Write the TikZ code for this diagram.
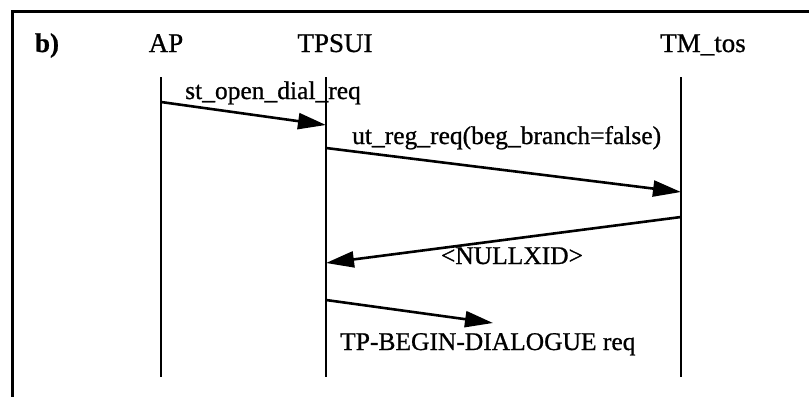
\documentclass[tikz,border=0pt]{standalone}
\usepackage{fontspec}
\setmainfont{Liberation Serif}
\newfontfamily\scanfont{Liberation Serif}[FakeBold=0.8]
\usetikzlibrary{arrows.meta}
\begin{document}
\begin{tikzpicture}[x=1pt,y=-1pt,
  head/.style={font=\scanfont\fontsize{27}{30}\selectfont, inner sep=0pt, anchor=base},
  lbl/.style={font=\scanfont\fontsize{25.5}{28}\selectfont, inner sep=0pt},
  life/.style={line width=2.3pt},
  msg/.style={line width=2.6pt, -{Triangle[length=28pt,width=16pt]}},
  frame/.style={line width=3pt}]
\useasboundingbox (0,0) rectangle (809,397);
\draw[frame] (809,11) -- (12,11) -- (12,397);
% headers
\node[head] (b) at (47,52) {\bfseries b)};
\node[head] (ap) at (166,52) {AP};
\node[head] (tpsui) at (335,52) {TPSUI};
\node[head] (tm) at (703,52) {TM\_tos};
% lifelines
\coordinate (apT) at (161,77); \coordinate (apB) at (161,377);
\coordinate (tpT) at (326,77); \coordinate (tpB) at (326,377);
\coordinate (tmT) at (681,77); \coordinate (tmB) at (681,377);
\draw[life] (apT) -- (apB);
\draw[life] (tpT) -- (tpB);
\draw[life] (tmT) -- (tmB);
% message endpoints
\coordinate (m1s) at (161,102); \coordinate (m1e) at (326,125);
\coordinate (m2s) at (326,148); \coordinate (m2e) at (681,192);
\coordinate (m3s) at (681,217); \coordinate (m3e) at (326,263);
\coordinate (m4s) at (326,300); \coordinate (m4e) at (493,323);
\draw[msg] (m1s) -- (m1e);
\draw[msg] (m2s) -- (m2e);
\draw[msg] (m3s) -- (m3e);
\draw[msg] (m4s) -- (m4e);
% labels
\node[lbl, anchor=base west] (l1) at (185,99) {st\_open\_dial\_req};
\node[lbl, anchor=base west] (l2) at (352,144) {ut\_reg\_req(beg\_branch=false)};
\node[lbl, anchor=base] (l3) at (512,264) {<NULLXID>};
\node[lbl, anchor=base west] (l4) at (340,350) {TP-BEGIN-DIALOGUE req};
\end{tikzpicture}
\end{document}
